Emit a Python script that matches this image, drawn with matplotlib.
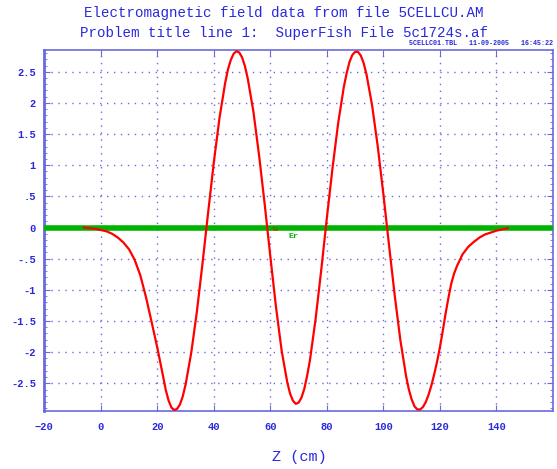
import matplotlib
matplotlib.use("Agg")
import matplotlib.pyplot as plt
from matplotlib.ticker import MultipleLocator, FixedLocator

# Ez on axis (z in cm)
z_cm = [-6, -4, -2, 0, 2, 4, 6, 8, 10, 12, 14, 16, 18, 20, 22, 23, 24, 25, 26, 27,
        28, 29, 30, 32, 34, 36, 38, 40, 42, 44, 45, 46, 47, 48, 49, 50, 51, 52, 54,
        56, 58, 60, 62, 64, 66, 67, 68, 69, 70, 71, 72, 73, 74, 76, 78, 80, 82, 84,
        86, 87, 88, 89, 90, 91, 92, 93, 94, 96, 98, 100, 102, 104, 106, 108, 109,
        110, 111, 112, 113, 114, 115, 116, 117, 118, 119, 120, 121, 122, 123, 124,
        125, 126, 128, 130, 132, 134, 136, 138, 140, 142, 144]
ez = [0.00, -0.01, -0.02, -0.04, -0.06, -0.10, -0.16, -0.24, -0.35, -0.52, -0.77,
      -1.12, -1.52, -1.93, -2.38, -2.61, -2.78, -2.89, -2.93, -2.91,
      -2.84, -2.71, -2.52, -2.01, -1.35, -0.57, 0.25, 1.05, 1.76, 2.32, 2.54, 2.69,
      2.79, 2.83, 2.81, 2.73, 2.59, 2.39, 1.86,
      1.16, 0.37, -0.47, -1.28, -1.98, -2.49, -2.67, -2.78, -2.83, -2.81, -2.73,
      -2.59, -2.38, -2.13, -1.47, -0.68, 0.16, 0.96, 1.68,
      2.26, 2.48, 2.66, 2.77, 2.82, 2.82, 2.76, 2.64, 2.46, 1.96, 1.30, 0.53, -0.29,
      -1.09, -1.81, -2.38, -2.60,
      -2.76, -2.87, -2.92, -2.92, -2.88, -2.80, -2.68, -2.53, -2.35, -2.15, -1.92,
      -1.66, -1.38, -1.13, -0.90,
      -0.74, -0.62, -0.43, -0.31, -0.23, -0.16, -0.11, -0.08, -0.05, -0.03, -0.01]
er_z = [-20, 160]
er = [0.0, 0.0]

x_ticks = [-20, 0, 20, 40, 60, 80, 100, 120, 140]
y_ticks = [-2.5, -2, -1.5, -1, -0.5, 0, 0.5, 1, 1.5, 2, 2.5]
y_labels = ["-2.5", "-2", "-1.5", "-1", "-.5", "0", ".5", "1", "1.5", "2", "2.5"]

blue = "#2828dc"
axblue = "#6a6ae0"
mono = "Liberation Mono"

fig = plt.figure(figsize=(5.57, 4.69), dpi=100)
ax = fig.add_axes([0.0795, 0.1243, 0.9133, 0.7691])

ax.plot(er_z, er, color="#00b400", lw=4.0, solid_capstyle="butt", zorder=3)
ax.plot(z_cm, ez, color="#ff0000", lw=1.6, zorder=4)

ax.set_xlim(-20, 160)
ax.set_ylim(-2.94, 2.85)

ax.xaxis.set_major_locator(FixedLocator(x_ticks))
ax.yaxis.set_major_locator(FixedLocator(y_ticks))
ax.set_yticklabels(y_labels)
ax.yaxis.set_minor_locator(MultipleLocator(0.1))

ax.grid(True, which="major", color=axblue, linestyle=(0, (1, 4)), lw=1)
ax.tick_params(which="both", direction="in", colors=axblue, labelcolor=blue,
               top=True, right=True, labelsize=7.5)
ax.tick_params(which="major", length=4)
ax.tick_params(which="minor", length=2)
ax.tick_params(axis="x", pad=8)
ax.tick_params(axis="y", pad=6)
for lab in ax.get_xticklabels() + ax.get_yticklabels():
    lab.set_fontfamily(mono)
    lab.set_fontweight("bold")
for s in ax.spines.values():
    s.set_color(axblue)
    s.set_linewidth(1.2)
ax.spines["left"].set_linewidth(2)

ax.text(60.8, -0.03, "Ez", color="red", fontsize=4, family=mono, va="center", zorder=5)
ax.text(66.5, -0.14, "Er", color="#00b400", fontsize=6, family=mono,
        fontweight="bold", va="center", zorder=5)

fig.text(0.51, 1 - 13.5 / 469, "Electromagnetic field data from file 5CELLCU.AM",
         ha="center", va="center", color=blue, fontsize=10.2, family=mono)
fig.text(0.51, 1 - 33.5 / 469, "Problem title line 1:  SuperFish File 5c1724s.af",
         ha="center", va="center", color=blue, fontsize=10.2, family=mono)
fig.text(0.993, 1 - 43.5 / 469, "5CELLC01.TBL   11-09-2005   16:45:22",
         ha="right", va="center", color=blue, fontsize=4.9, family=mono,
         fontweight="bold")
fig.text(0.537, 1 - 457 / 469, "Z (cm)", ha="center", va="center", color=blue,
         fontsize=11, family=mono)

fig.savefig("out.png", dpi=100)
